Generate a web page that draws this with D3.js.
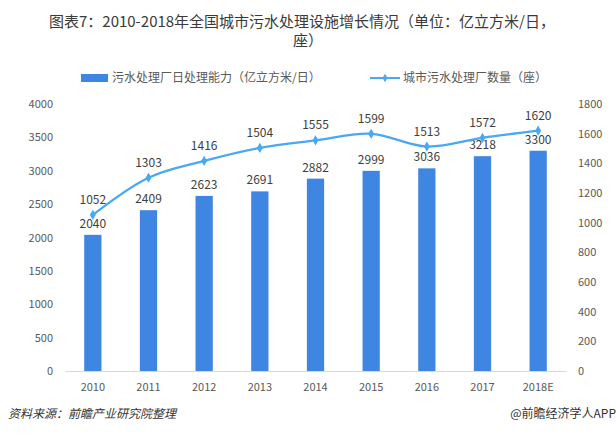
<!DOCTYPE html>
<html><head><meta charset="utf-8">
<script src="https://cdn.jsdelivr.net/npm/d3@7"></script>
<style>
body{margin:0;background:#fff;}
svg{display:block;font-family:"Microsoft YaHei","Noto Sans CJK SC",sans-serif;}
</style></head>
<body><svg id="c" width="616" height="439"></svg>
<script>
const categories = ["2010","2011","2012","2013","2014","2015","2016","2017","2018E"];
const capacity = [2040,2409,2623,2691,2882,2999,3036,3218,3300];
const plants = [1052,1303,1416,1504,1555,1599,1513,1572,1620];
const leftTicks = [0,500,1000,1500,2000,2500,3000,3500,4000];
const rightTicks = [0,200,400,600,800,1000,1200,1400,1600,1800];

const svg = d3.select("#c");
const barColor = "#3f86e2", lineColor = "#4aa8f2", txt = "#595959";
const x = d3.scaleBand().domain(categories).range([65,566]).paddingInner(0.69).paddingOuter(0.345);
const yL = d3.scaleLinear().domain([0,4000]).range([371,104]);
const yR = d3.scaleLinear().domain([0,1800]).range([371,104]);

// title
svg.append("text").attr("x",302).attr("y",27).attr("text-anchor","middle").attr("font-size",15).attr("fill","#3a3a3a")
  .text("图表7：2010-2018年全国城市污水处理设施增长情况（单位：亿立方米/日，");
svg.append("text").attr("x",308).attr("y",46).attr("text-anchor","middle").attr("font-size",15).attr("fill","#3a3a3a").text("座）");

// legend
svg.append("rect").attr("x",81).attr("y",74).attr("width",27).attr("height",8).attr("fill",barColor);
svg.append("text").attr("x",112).attr("y",82).attr("font-size",12).attr("fill",txt).text("污水处理厂日处理能力（亿立方米/日）");
svg.append("line").attr("x1",370).attr("x2",400).attr("y1",78).attr("y2",78).attr("stroke",lineColor).attr("stroke-width",2);
svg.append("path").attr("d",d3.symbol(d3.symbolDiamond,22)()).attr("transform","translate(385,78)").attr("fill",lineColor);
svg.append("text").attr("x",403).attr("y",82).attr("font-size",12).attr("fill",txt).text("城市污水处理厂数量（座）");

// axes
const fmt = d3.format("d");
const gL = svg.append("g").attr("transform","translate(65,0)")
  .call(d3.axisLeft(yL).tickValues(leftTicks).tickFormat(fmt).tickSize(0).tickPadding(12));
gL.select(".domain").remove();
gL.selectAll("text").attr("font-size",11).attr("fill",txt).attr("font-family","Microsoft YaHei,Noto Sans CJK SC,sans-serif");
const gR = svg.append("g").attr("transform","translate(566,0)")
  .call(d3.axisRight(yR).tickValues(rightTicks).tickFormat(fmt).tickSize(0).tickPadding(12));
gR.select(".domain").remove();
gR.selectAll("text").attr("font-size",11).attr("fill",txt).attr("font-family","Microsoft YaHei,Noto Sans CJK SC,sans-serif");
const gX = svg.append("g").attr("transform","translate(0,371)")
  .call(d3.axisBottom(x).tickSize(0).tickPadding(12));
gX.select(".domain").attr("stroke","#d9d9d9");
gX.selectAll("text").attr("font-size",11).attr("fill",txt).attr("font-family","Microsoft YaHei,Noto Sans CJK SC,sans-serif");

// bars
svg.append("g").selectAll("rect").data(capacity).join("rect")
  .attr("x",(d,i)=>x(categories[i])).attr("width",x.bandwidth())
  .attr("y",d=>yL(d)).attr("height",d=>371-yL(d)).attr("fill",barColor);
svg.append("g").selectAll("text").data(capacity).join("text")
  .attr("x",(d,i)=>x(categories[i])+x.bandwidth()/2).attr("y",d=>yL(d)-7)
  .attr("text-anchor","middle").attr("font-size",12).attr("fill","#404040").text(d=>d);

// line
const cx = (i)=>x(categories[i])+x.bandwidth()/2;
const line = d3.line().x((d,i)=>cx(i)).y(d=>yR(d)).curve(d3.curveCatmullRom.alpha(0.5));
svg.append("path").datum(plants).attr("d",line).attr("fill","none").attr("stroke",lineColor).attr("stroke-width",2.25);
svg.append("g").selectAll("path").data(plants).join("path")
  .attr("d",d3.symbol(d3.symbolDiamond,30)()).attr("transform",(d,i)=>`translate(${cx(i)},${yR(d)})`).attr("fill",lineColor);
svg.append("g").selectAll("text").data(plants).join("text")
  .attr("x",(d,i)=>cx(i)).attr("y",d=>yR(d)-11)
  .attr("text-anchor","middle").attr("font-size",12).attr("fill","#404040").text(d=>d);

// footer
svg.append("text").attr("x",8).attr("y",418).attr("font-size",12).attr("font-style","italic").attr("fill","#333").text("资料来源：前瞻产业研究院整理");
svg.append("text").attr("x",616).attr("y",418).attr("text-anchor","end").attr("font-size",12).attr("fill","#333").text("@前瞻经济学人APP");
</script></body></html>
